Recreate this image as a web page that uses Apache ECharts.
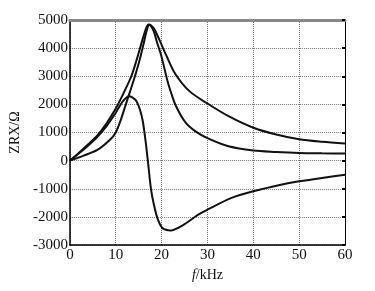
<!DOCTYPE html>
<html>
<head>
<meta charset="utf-8">
<script src="https://cdn.jsdelivr.net/npm/echarts@6/dist/echarts.min.js"></script>
<style>
  html, body { margin: 0; padding: 0; background: #fff; }
  #main { width: 375px; height: 291px; }
</style>
</head>
<body>
<div id="main"></div>
<script>
// f in kHz, values in ohm
var zData = [[0,0],[2,280],[4,580],[6,900],[8,1330],[10,1850],[12,2500],[13.4,3000],[14.5,3550],[15.3,4000],
  [16.2,4500],[17.1,4840],[17.6,4820],[18.5,4650],[19.5,4300],[21,3750],[23,3080],[26,2480],[30,2030],
  [34.6,1580],[40,1170],[45,930],[50,760],[55,670],[60,605]];
var rData = [[0,0],[3,180],[6,380],[8.8,750],[10,1000],[11,1400],[12,1900],[13,2400],[14,2900],[15,3450],
  [16,4100],[16.8,4650],[17.3,4830],[18,4700],[18.4,4550],[19,4200],[19.9,3750],[21.3,2820],[22,2450],
  [23.1,1950],[25.2,1360],[27.4,1040],[30,800],[34.6,510],[40,360],[45,310],[50,275],[55,260],[60,250]];
var xData = [[0,0],[2,260],[4,540],[6,850],[8,1230],[10,1700],[11.5,2100],[12.9,2290],[13.6,2250],[14.5,2120],
  [15.3,1800],[15.9,1400],[16.5,700],[17,0],[17.7,-1030],[18.4,-1625],[19.2,-2100],[20.2,-2400],[22,-2480],
  [24.5,-2310],[28,-1920],[30,-1745],[35,-1340],[40,-1090],[46,-855],[50,-735],[55,-620],[60,-500]];

var chart = echarts.init(document.getElementById('main'));
var font = 'Liberation Serif';
var lineStyle = { color: '#111', width: 2 };

function curve(name, data) {
  return {
    name: name,
    type: 'line',
    data: data,
    smooth: 0.3,
    symbol: 'none',
    lineStyle: lineStyle,
    xAxisIndex: 0,
    yAxisIndex: 0
  };
}

var option = {
  backgroundColor: '#fff',
  animation: false,
  grid: { left: 66, right: 30, top: 20, bottom: 46 },
  xAxis: [{
    type: 'value',
    min: 0, max: 60, interval: 10,
    name: '{i|f}/kHz',
    nameLocation: 'middle',
    nameGap: 20,
    nameTextStyle: {
      fontFamily: font, fontSize: 14, color: '#111',
      rich: { i: { fontFamily: font, fontSize: 14, fontStyle: 'italic', color: '#111' } }
    },
    axisLine: { show: true, onZero: false, lineStyle: { color: '#000', width: 1.5 } },
    axisTick: { show: false },
    axisLabel: { fontFamily: font, fontSize: 15, color: '#111', margin: 3 },
    splitLine: { show: true, lineStyle: { color: '#777', type: 'dotted', width: 1 } }
  }, {
    type: 'value',
    position: 'top',
    min: 0, max: 60, interval: 10,
    axisLine: { show: true, onZero: false, lineStyle: { color: '#888', width: 3 } },
    axisTick: { show: false },
    axisLabel: { show: false },
    splitLine: { show: false }
  }],
  yAxis: [{
    type: 'value',
    min: -3000, max: 5000, interval: 1000,
    name: 'ZRX/Ω',
    nameLocation: 'middle',
    nameGap: 37,
    nameTextStyle: { fontFamily: font, fontSize: 14, color: '#111' },
    axisLine: { show: true, onZero: false, lineStyle: { color: '#000', width: 1.5 } },
    axisTick: { show: false },
    axisLabel: { fontFamily: font, fontSize: 15, color: '#111', margin: 2, formatter: function (v) { return String(v); } },
    splitLine: { show: true, lineStyle: { color: '#777', type: 'dotted', width: 1 } }
  }, {
    type: 'value',
    position: 'right',
    min: -3000, max: 5000, interval: 1000,
    axisLine: { show: true, onZero: false, lineStyle: { color: '#000', width: 1 } },
    axisTick: { show: true, inside: true, length: 3, lineStyle: { color: '#000', width: 2 } },
    axisLabel: { show: false },
    splitLine: { show: false }
  }],
  series: [
    curve('Z', zData),
    curve('R', rData),
    curve('X', xData)
  ]
};
chart.setOption(option);
</script>
</body>
</html>
